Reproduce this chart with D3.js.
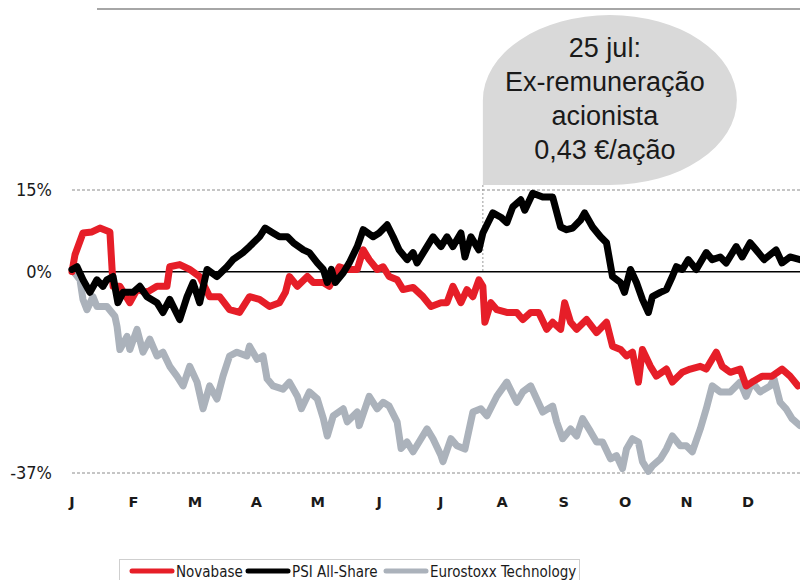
<!DOCTYPE html>
<html><head><meta charset="utf-8">
<script src="https://cdn.jsdelivr.net/npm/d3@7/dist/d3.min.js"></script>
<style>body{margin:0;background:#fff}svg{display:block}</style>
</head><body><svg id="c" width="800" height="580"></svg>
<script>
// ---- data (x = day of year, y = % change) ----
const monthLabels = ["J","F","M","A","M","J","J","A","S","O","N","D"];
const yTicks = [15, 0, -37];
const yTickLabels = ["15%", "0%", "-37%"];
const seriesNames = ["Novabase", "PSI All-Share", "Eurostoxx Technology"];
const seriesColors = ["#e61e28", "#000000", "#abb2bb"];
const calloutDay = 206;
const calloutLines = ["25 jul:", "Ex-remuneração", "acionista", "0,43 €/ação"];

const novabase = [[0,0],[1.5,3.1],[5.5,7.1],[10,7.3],[14,8.0],[19,7.3],[20.6,-2.7],[24,-2.7],[29,-5.7],[32.6,-3.3],[37.6,-3.8],[42.6,-2.7],[47.6,-2.7],[49,0.9],[54,1.3],[59,0.4],[64,-0.9],[69,-4.6],[74,-4.6],[79,-7.0],[84,-7.5],[89,-4.6],[94,-5.1],[99,-6.4],[104,-5.7],[107,-3.8],[109,-0.9],[113,-2.7],[118,-0.9],[121,-2.0],[126,-2.0],[129,-2.7],[134,0.9],[138,0.4],[143,0.4],[146,4.0],[149,2.2],[153,0.4],[156,0.9],[159,-0.9],[163,-1.5],[166,-3.3],[171,-2.9],[176,-4.6],[180,-6.4],[185,-5.7],[188,-5.7],[191,-2.7],[195,-5.7],[198,-3.3],[201,-4.6],[204,-1.5],[206,-2.7],[207,-9.3],[210,-5.7],[213,-7.0],[218,-7.5],[223,-7.5],[226,-8.8],[230,-7.5],[234,-7.5],[238,-10.6],[241,-9.3],[245,-10.6],[247,-5.7],[250,-9.3],[253,-10.6],[258,-8.8],[263,-11.2],[268,-9.3],[271,-13.7],[275,-14.3],[278,-15.5],[281,-14.8],[284,-20.3],[286,-14.3],[290,-17.4],[293,-19.2],[298,-17.9],[301,-20.3],[306,-18.5],[310,-17.9],[315,-17.4],[318,-17.9],[323,-14.8],[326,-17.4],[330,-18.5],[335,-17.9],[338,-21.0],[341,-20.3],[346,-19.2],[351,-19.2],[356,-17.9],[360,-19.2],[364,-21.0]];

const psi = [[0,0.4],[2.5,0.9],[5.5,-1.5],[9,-3.8],[12.5,-1.5],[15.5,-2.7],[17.5,-1.5],[20.6,-0.9],[23,-5.7],[25.6,-3.8],[30.6,-3.8],[34,-2.7],[37.6,-4.6],[42.6,-5.7],[45.6,-7.5],[49,-5.1],[54,-8.8],[57.7,-4.6],[60.7,-2.0],[64,-5.7],[67.7,0.4],[72.7,-0.9],[77.7,0.9],[80.7,2.2],[85.7,3.5],[89,4.6],[94,6.4],[96.8,8.0],[100.8,7.1],[104,6.4],[108,6.4],[111,5.3],[116,4.0],[119,3.5],[123,1.6],[126,0.4],[128,-2.0],[130,0.4],[132,-2.0],[136,-0.2],[139,1.6],[143,4.6],[146,7.7],[151,6.4],[154,7.1],[158,8.6],[161,6.4],[164,4.0],[168,2.2],[171,3.5],[173,1.6],[178,4.6],[181,6.4],[185,4.6],[188,6.4],[191,4.6],[195,7.1],[197,2.7],[200,6.4],[204,4.0],[206,7.1],[211,10.8],[215,10.0],[218,9.0],[221,11.9],[225,13.2],[227,11.3],[231,14.4],[236,13.7],[241,13.7],[245,8.2],[248,7.7],[251,8.0],[255,9.5],[257,10.8],[261,8.2],[265,6.4],[268,5.3],[271,-0.9],[275,-2.0],[277,-3.8],[280,0.4],[283,-2.0],[286,-5.1],[289,-7.5],[291,-4.6],[295,-3.8],[298,-3.3],[301,-0.9],[303,0.9],[306,0.4],[309,2.2],[313,0.4],[318,3.5],[321,2.2],[325,2.7],[328,1.6],[333,4.6],[336,2.7],[340,5.3],[343,4.0],[347,2.2],[353,4.0],[356,1.6],[360,2.7],[365,2.2]];

const eurostoxx = [[0,0.4],[4,-1.5],[5.5,-5.1],[7.5,-7.0],[10.5,-4.6],[12.5,-6.4],[17.5,-6.4],[21.5,-8.2],[22.6,-10.1],[24,-14.3],[27.6,-11.9],[29,-14.3],[32.6,-10.6],[35.6,-14.8],[39,-12.4],[42.6,-15.5],[45.6,-14.8],[49,-17.4],[52.6,-19.2],[55.7,-21.0],[59,-17.4],[62.7,-20.3],[65.7,-25.2],[69,-21.0],[72.7,-23.4],[75.7,-19.2],[79,-15.5],[82.7,-14.8],[87.7,-15.5],[89,-13.7],[92.8,-16.1],[95.8,-15.5],[97.8,-19.7],[100.8,-21.0],[105.8,-21.6],[109,-20.3],[113,-22.9],[115,-25.2],[119,-22.1],[123,-23.4],[126,-27.0],[128,-30.2],[131,-26.5],[136,-25.2],[138,-27.6],[143,-25.8],[144,-28.3],[149,-22.9],[153,-25.2],[156,-24.0],[159,-24.7],[163,-27.6],[165,-32.5],[168,-31.3],[171,-33.1],[174,-31.3],[178,-28.9],[181,-30.7],[185,-33.8],[186,-34.9],[190,-30.7],[193,-32.0],[197,-32.6],[201,-25.8],[205,-25.2],[208,-26.5],[213,-22.9],[218,-20.3],[223,-24.0],[226,-22.1],[230,-21.0],[233,-23.4],[236,-25.8],[241,-24.7],[243,-27.6],[246,-30.7],[250,-28.9],[253,-30.2],[256,-27.0],[260,-29.4],[263,-31.3],[266,-31.3],[270,-34.4],[273,-33.8],[276,-36.2],[278,-32.6],[281,-30.7],[284,-31.3],[286,-34.9],[289,-36.7],[291,-35.7],[295,-34.4],[298,-32.6],[301,-30.2],[305,-32.0],[308,-32.0],[311,-33.1],[315,-28.9],[318,-25.2],[321,-21.0],[325,-22.1],[330,-22.1],[335,-20.3],[338,-22.9],[341,-20.3],[345,-22.1],[350,-21.0],[352,-19.7],[355,-24.0],[358,-25.2],[361,-27.0],[365,-28.3]];

const allSeries = [novabase, psi, eurostoxx];

// ---- chart ----
const svg = d3.select("#c");
const x = d3.scaleLinear().domain([0, 365]).range([72, 800]);
const y = d3.scaleLinear().domain([-37, 15]).range([473, 190]);
const xm = d3.scalePoint().domain(d3.range(12)).range([72, 748]);

// top rule
svg.append("line").attr("x1", 97).attr("x2", 800).attr("y1", 9).attr("y2", 9)
  .attr("stroke", "#a6a6a6").attr("stroke-width", 2);

// gridlines
yTicks.forEach(t => {
  svg.append("line").attr("x1", x(0)).attr("x2", x(365)).attr("y1", y(t)).attr("y2", y(t))
    .attr("stroke", t === 0 ? "#000" : "#8c8c8c")
    .attr("stroke-width", t === 0 ? 1.5 : 1)
    .attr("stroke-dasharray", t === 0 ? null : "3,2");
});

// callout
const cx0 = x(calloutDay), cyb = y(15) - 5, rx = 127, ry = 85;
const ccx = cx0 + rx, ccy = cyb - ry;
svg.append("path")
  .attr("d", `M${cx0},${cyb} L${cx0},${ccy} A${rx},${ry} 0 0 1 ${ccx + rx},${ccy} A${rx},${ry} 0 0 1 ${ccx},${cyb} Z`)
  .attr("fill", "#d9d9d9");
svg.append("line").attr("x1", cx0).attr("x2", cx0).attr("y1", cyb).attr("y2", y(0))
  .attr("stroke", "#9a9a9a").attr("stroke-width", 1).attr("stroke-dasharray", "2,2");
calloutLines.forEach((t, i) => {
  svg.append("text").attr("x", ccx - 5).attr("y", 57 + i * 34)
    .attr("text-anchor", "middle")
    .attr("font-family", "Liberation Sans, Arial, sans-serif")
    .attr("font-size", 27).attr("fill", "#1a1a1a").text(t);
});

// series
const line = d3.line().x(d => x(d[0])).y(d => y(d[1]));
[2, 0, 1].forEach(i => {
  svg.append("path").datum(allSeries[i]).attr("d", line)
    .attr("fill", "none").attr("stroke", seriesColors[i])
    .attr("stroke-width", 7).attr("stroke-linejoin", "round").attr("stroke-linecap", "round");
});

// y labels
yTicks.forEach((t, i) => {
  svg.append("text").attr("x", 52).attr("y", y(t)).attr("dy", "0.35em")
    .attr("text-anchor", "end")
    .attr("font-family", "DejaVu Sans Condensed, DejaVu Sans, sans-serif")
    .attr("font-size", 18).attr("fill", "#1a1a1a").text(yTickLabels[i]);
});

// x labels
monthLabels.forEach((m, i) => {
  svg.append("text").attr("x", xm(i)).attr("y", 502).attr("dy", "0.35em")
    .attr("text-anchor", "middle")
    .attr("font-family", "DejaVu Sans, sans-serif").attr("font-weight", "bold")
    .attr("font-size", 14.5).attr("fill", "#1a1a1a").text(m);
});

// legend
svg.append("rect").attr("x", 119.5).attr("y", 559.5).attr("width", 460).attr("height", 40)
  .attr("fill", "#fff").attr("stroke", "#cfcfcf");
const legX = [132, 248, 386];
seriesNames.forEach((n, i) => {
  svg.append("line").attr("x1", legX[i]).attr("x2", legX[i] + 40).attr("y1", 571).attr("y2", 571)
    .attr("stroke", seriesColors[i]).attr("stroke-width", 5).attr("stroke-linecap", "round");
  svg.append("text").attr("x", legX[i] + 44).attr("y", 577)
    .attr("font-family", "DejaVu Sans Condensed, DejaVu Sans, sans-serif")
    .attr("font-size", 15).attr("fill", "#1a1a1a").text(n);
});
</script></body></html>
